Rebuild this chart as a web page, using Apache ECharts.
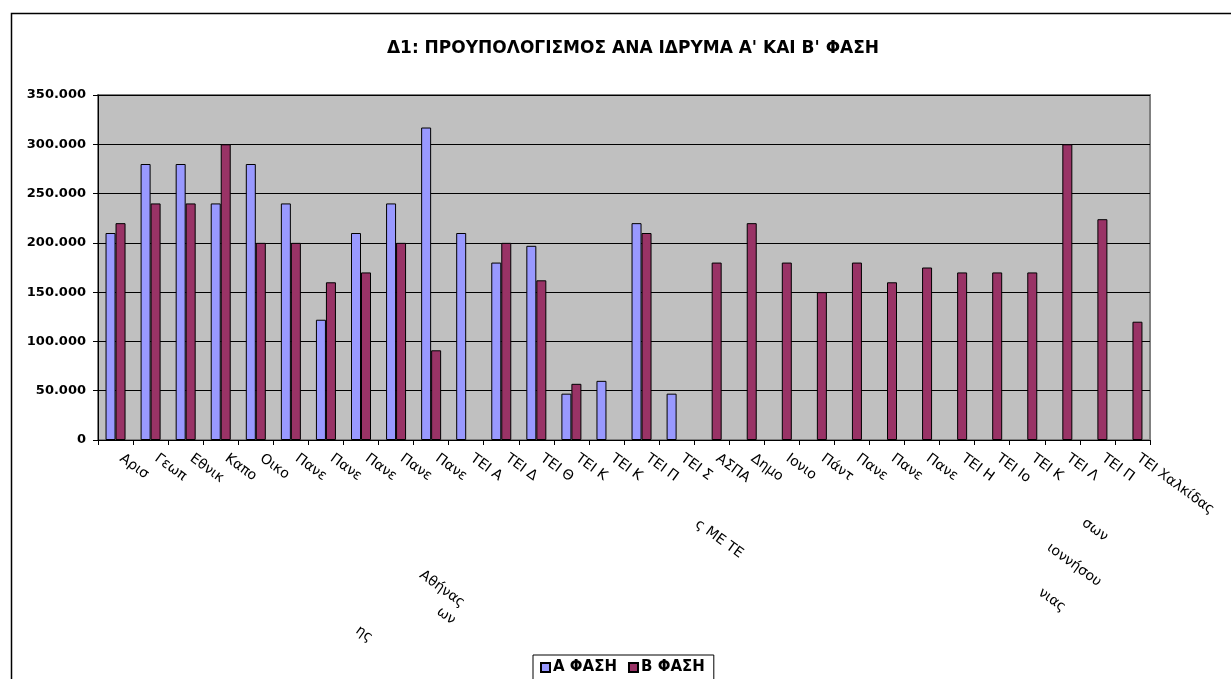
<!DOCTYPE html>
<html>
<head>
<meta charset="utf-8">
<script src="https://cdn.jsdelivr.net/npm/echarts@6/dist/echarts.min.js"></script>
<style>
html,body{margin:0;padding:0;background:#fff;}
#chart{width:1231px;height:679px;}
</style>
</head>
<body>
<div id="chart"></div>
<script>
const titleText = "Δ1: ΠΡΟΥΠΟΛΟΓΙΣΜΟΣ ΑΝΑ ΙΔΡΥΜΑ Α' ΚΑΙ Β' ΦΑΣΗ";
const seriesNames = ["Α ΦΑΣΗ", "Β ΦΑΣΗ"];
const categories = [
  "Αριστοτέλειο Πανεπιστήμιο Θεσσαλονίκης",
  "Γεωπονικό Πανεπιστήμιο Αθηνών",
  "Εθνικό Μετσόβιο Πολυτεχνείο",
  "Καποδιστριακό Πανεπιστήμιο Αθηνών",
  "Οικονομικό Πανεπιστήμιο Αθηνών",
  "Πανεπιστήμιο Αιγαίου",
  "Πανεπιστήμιο Θεσσαλίας",
  "Πανεπιστήμιο Ιωαννίνων",
  "Πανεπιστήμιο Κρήτης",
  "Πανεπιστήμιο Πατρών",
  "ΤΕΙ Αθήνας",
  "ΤΕΙ Δυτικής Μακεδονίας",
  "ΤΕΙ Θεσσαλονίκης",
  "ΤΕΙ Καβάλας",
  "ΤΕΙ Κρήτης",
  "ΤΕΙ Πειραιά",
  "ΤΕΙ Σερρών",
  "ΑΣΠΑΙΤΕ",
  "Δημοκρίτειο Πανεπιστήμιο Θράκης",
  "Ιονιο Πανεπιστήμιο",
  "Πάντειο Πανεπιστήμιο",
  "Πανεπιστήμιο Μακεδονίας",
  "Πανεπιστήμιο Πειραιά",
  "Πανεπιστήμιο Πελοποννήσου",
  "ΤΕΙ Ηπείρου",
  "ΤΕΙ Ιονίων Νήσων",
  "ΤΕΙ Καλαμάτας",
  "ΤΕΙ Λάρισας",
  "ΤΕΙ Πάτρας",
  "ΤΕΙ Χαλκίδας"
];
const phaseA = [210000, 280000, 280000, 240000, 280000, 240000, 122000, 210000, 240000, 317000,
  210000, 180000, 197000, 47000, 60000, 220000, 47000,
  null, null, null, null, null, null, null, null, null, null, null, null, null];
const phaseB = [220000, 240000, 240000, 300000, 200000, 200000, 160000, 170000, 200000, 91000,
  null, 200000, 162000, 57000, null, 210000, null,
  180000, 220000, 180000, 150000, 180000, 160000, 175000, 170000, 170000, 170000, 300000, 224000, 120000];
const yMin = 0, yMax = 350000, yInterval = 50000;
// stray label fragments visible under the axis in the reference
const fragments = [
  {t: "Αθήνας", x: 442, y: 589},
  {t: "ων", x: 446, y: 616},
  {t: "ης", x: 364, y: 634},
  {t: "ς ΜΕ ΤΕ", x: 719, y: 539},
  {t: "σων", x: 1095, y: 530},
  {t: "ιοννήσου", x: 1074, y: 565},
  {t: "νιας", x: 1052, y: 600}
];

const chart = echarts.init(document.getElementById('chart'), null, {renderer: 'canvas'});
const fmt = v => v === 0 ? '0' : String(v).replace(/\B(?=(\d{3})+(?!\d))/g, '.');
const boldFont = 'DejaVu Sans';
const rot = -36 * Math.PI / 180;
const lastIdx = categories.length - 1;
const labelFontSize = 14;
const measureCtx = document.createElement('canvas').getContext('2d');
measureCtx.font = labelFontSize + 'px "DejaVu Sans"';
function clipLabel(v, i) {
  if (i === lastIdx) return v;
  let out = '';
  for (const ch of v) {
    if (measureCtx.measureText(out + ch).width > 39) break;
    out += ch;
  }
  return out;
}

const option = {
  backgroundColor: '#ffffff',
  animation: false,
  title: {
    text: titleText,
    left: 628, top: 35, textAlign: 'center',
    textStyle: {fontFamily: boldFont, fontWeight: 'bold', fontSize: 17, color: '#000'}
  },
  legend: {
    data: seriesNames,
    left: 533, top: 655,
    orient: 'horizontal',
    icon: 'rect',
    itemWidth: 9, itemHeight: 9, itemGap: 11,
    padding: [5, 9, 8, 7],
    borderColor: '#000', borderWidth: 1,
    textStyle: {fontFamily: boldFont, fontWeight: 'bold', fontSize: 15, color: '#000', padding: [0, 0, 0, -2]}
  },
  grid: {
    left: 98, right: 81, top: 95, bottom: 239,
    show: true, backgroundColor: '#C0C0C0', borderColor: '#808080', borderWidth: 2,
    containLabel: false
  },
  xAxis: {
    type: 'category',
    data: categories,
    boundaryGap: true,
    axisLine: {show: true, lineStyle: {color: '#000', width: 1}},
    axisTick: {show: true, length: 5, lineStyle: {color: '#000'}},
    axisLabel: {
      interval: 0, rotate: -36, margin: 13, hideOverlap: false,
      padding: [0, 0, 0, 7],
      fontFamily: 'DejaVu Sans', fontSize: labelFontSize, color: '#000',
      formatter: clipLabel
    },
    splitLine: {show: false}
  },
  yAxis: {
    type: 'value',
    min: yMin, max: yMax, interval: yInterval,
    axisLine: {show: true, lineStyle: {color: '#000', width: 1}},
    axisTick: {show: true, length: 5, lineStyle: {color: '#000'}},
    axisLabel: {fontFamily: boldFont, fontWeight: 'bold', fontSize: 13, color: '#000', margin: 12, formatter: fmt},
    splitLine: {show: true, lineStyle: {color: '#000', width: 1}}
  },
  series: [
    {
      name: seriesNames[0], type: 'bar', data: phaseA,
      barWidth: 10, barGap: '0%',
      itemStyle: {color: '#9999FF', borderColor: '#000', borderWidth: 1}
    },
    {
      name: seriesNames[1], type: 'bar', data: phaseB,
      barWidth: 10, barGap: '0%',
      itemStyle: {color: '#993366', borderColor: '#000', borderWidth: 1}
    }
  ],
  graphic: [
    {
      type: 'rect', left: 9, top: 11, silent: true, z: -1,
      shape: {width: 1240, height: 700},
      style: {fill: 'none', stroke: '#000', lineWidth: 1.5}
    }
  ].concat(fragments.map(f => ({
    type: 'text', x: f.x, y: f.y, rotation: rot, silent: true,
    style: {text: f.t, fontFamily: 'DejaVu Sans', fontSize: 14, fill: '#000', align: 'center', verticalAlign: 'middle'}
  })))
};
chart.setOption(option);
</script>
</body>
</html>
